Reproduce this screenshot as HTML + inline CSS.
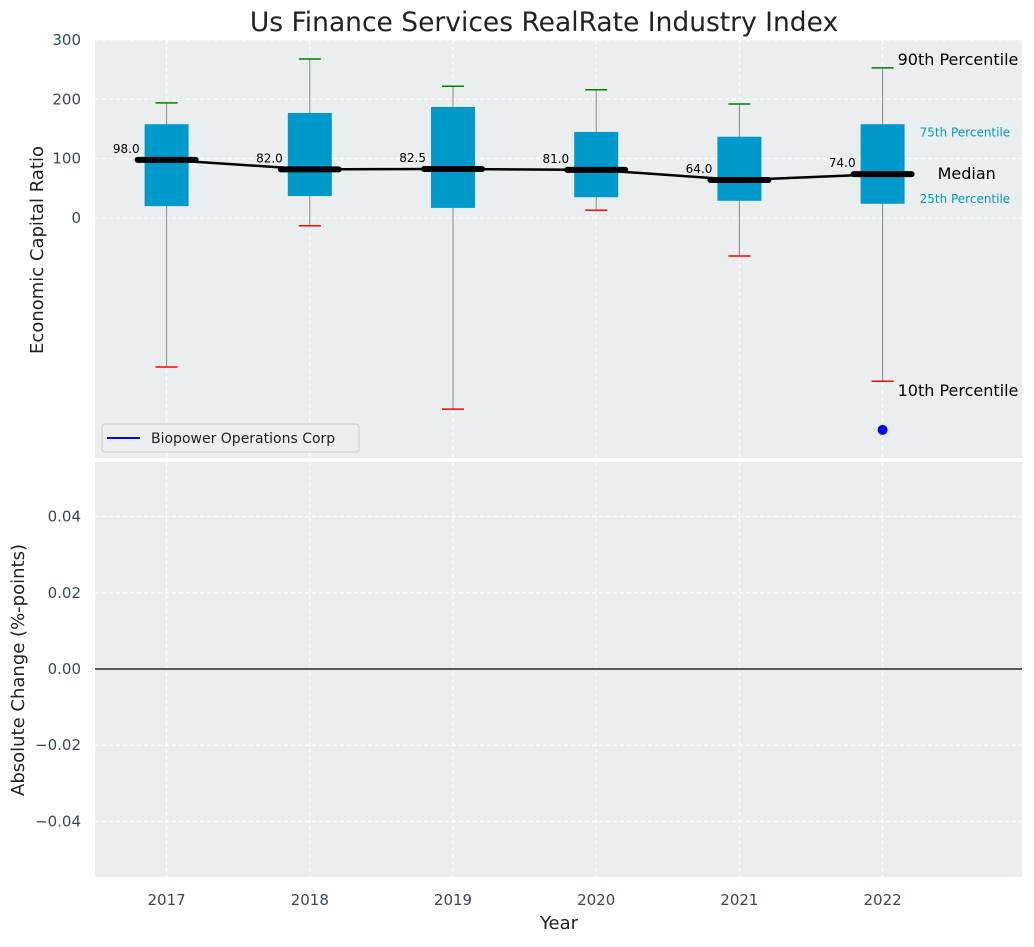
<!DOCTYPE html>
<html><head><meta charset="utf-8"><style>
body{margin:0;background:#fff;font-family:"Liberation Sans","DejaVu Sans",sans-serif}
svg text{font-family:"DejaVu Sans","Liberation Sans",sans-serif}
</style></head><body>
<svg id="c" width="1034" height="942" xmlns="http://www.w3.org/2000/svg">
<text x="544" y="31" font-size="26.5" text-anchor="middle" fill="#222">Us Finance Services RealRate Industry Index</text>
<g id="top"></g>
<g id="bot"></g>
</svg>
<script>
const years=[2017,2018,2019,2020,2021,2022];
const p10=[-251,-13,-322,13,-64,-275];
const p25=[20,37,17,35,29,24];
const med=[98,82,82.5,81,64,74];
const p75=[158,177,187,145,137,158];
const p90=[194,268,222,216,192,253];
const companyYears=[2022];
const companyVals=[-357];
const topTicks=[0,100,200,300];
const botTicks=[-0.04,-0.02,0,0.02,0.04];
const NS="http://www.w3.org/2000/svg";
function el(p,t,a){const e=document.createElementNS(NS,t);for(const k in a)e.setAttribute(k,a[k]);p.appendChild(e);return e;}
const L=95,R=1022;
const x=v=>L+(v-2016.5)*143.2;
const yT=v=>218-v*0.5935;
const yB=v=>669-v*3810;
const topG=document.getElementById('top'),botG=document.getElementById('bot'),svg=document.getElementById('c');
let r=el(topG,'rect',{x:L,y:40,width:R-L,height:418,fill:'#eaeeef'});


r=el(botG,'rect',{x:L,y:462,width:R-L,height:415,fill:'#eaeeef'});


years.forEach(yr=>{
 [[topG,40,458],[botG,462,877]].forEach(([g,a,b])=>{let l=el(g,'line',{x1:x(yr),x2:x(yr),y1:a,y2:b,stroke:'#fff','stroke-dasharray':'4,3'});
 
 });
 let t=el(svg,'text',{x:x(yr),y:905,'font-size':15,'text-anchor':'middle',fill:'#34495e'});t.textContent=yr;
 
 
});
topTicks.forEach(v=>{
 let l=el(topG,'line',{x1:L,x2:R,y1:yT(v),y2:yT(v),stroke:'#fff','stroke-dasharray':'4,3'});
 
 
 let t=el(topG,'text',{x:81,y:yT(v)+5,'font-size':15,'text-anchor':'end',fill:'#34495e'});t.textContent=v;
 
 
});
botTicks.forEach(v=>{
 let l=el(botG,'line',{x1:L,x2:R,y1:yB(v),y2:yB(v),stroke:'#fff','stroke-dasharray':'4,3'});
 
 
 let t=el(botG,'text',{x:81,y:yB(v)+5,'font-size':15,'text-anchor':'end',fill:'#34495e'});t.textContent=(v<0?'−':'')+Math.abs(v).toFixed(2);
 
 
});
let zl=el(botG,'line',{x1:L,x2:R,y1:yB(0),y2:yB(0),stroke:'#000','stroke-width':1.2});


years.forEach((yr,i)=>{
 const cx=x(yr);
 let w=el(topG,'line',{x1:cx,x2:cx,y1:yT(p90[i]),y2:yT(p10[i]),stroke:'#888','stroke-width':1});
 
 
 let b=el(topG,'rect',{x:cx-22,y:yT(p75[i]),width:44,height:yT(p25[i])-yT(p75[i]),fill:'#0099cc'});
 
 
 let c1=el(topG,'line',{x1:cx-11,x2:cx+11,y1:yT(p90[i]),y2:yT(p90[i]),stroke:'green','stroke-width':1.5});
 
 
 let c2=el(topG,'line',{x1:cx-11,x2:cx+11,y1:yT(p10[i]),y2:yT(p10[i]),stroke:'red','stroke-width':1.5});
 
 
 let m=el(topG,'line',{x1:cx-29,x2:cx+29,y1:yT(med[i]),y2:yT(med[i]),stroke:'#000','stroke-width':6,'stroke-linecap':'round'});
 
 
 let t=el(topG,'text',{x:cx-27,y:yT(med[i])-7,'font-size':12,'text-anchor':'end',fill:'#000'});t.textContent=med[i].toFixed(1);
 
 
});
let ml=el(topG,'polyline',{points:years.map((yr,i)=>x(yr)+','+yT(med[i])).join(' '),fill:'none',stroke:'#000','stroke-width':2.5});


companyYears.forEach((yr,i)=>{let d=el(topG,'circle',{cx:x(yr),cy:yT(companyVals[i]),r:5,fill:'blue'});
 
 });
const li=years.length-1,lx=x(years[li]);
[['90th Percentile',p90[li],16,'#000',lx+15,-3],['75th Percentile',p75[li]-14,12,'#0099cc',lx+37,4],['Median',med[li],16,'#000',lx+55,5],['25th Percentile',p25[li]+8,12,'#0099cc',lx+37,4],['10th Percentile',p10[li]-15,16,'#000',lx+15,6]].forEach(a=>{
 let t=el(topG,'text',{x:a[4],y:yT(a[1])+a[5],'font-size':a[2],fill:a[3]});t.textContent=a[0];
 
 
});
let lg=el(topG,'g',{});


el(lg,'rect',{x:102,y:424,width:257,height:28,rx:3,fill:'#eaeeef',stroke:'#ccc'});
el(lg,'line',{x1:107,x2:140,y1:438,y2:438,stroke:'blue','stroke-width':2});
let lt=el(lg,'text',{x:151,y:443,'font-size':14,fill:'#222'});lt.textContent='Biopower Operations Corp';


let yl=el(svg,'text',{x:43,y:250,'font-size':18,'text-anchor':'middle',fill:'#222',transform:'rotate(-90 43 250)'});yl.textContent='Economic Capital Ratio';


let yl2=el(svg,'text',{x:24,y:670,'font-size':18,'text-anchor':'middle',fill:'#222',transform:'rotate(-90 24 670)'});yl2.textContent='Absolute Change (%-points)';


let xl=el(svg,'text',{x:559,y:929,'font-size':18,'text-anchor':'middle',fill:'#222'});xl.textContent='Year';


</script>
</body></html>
